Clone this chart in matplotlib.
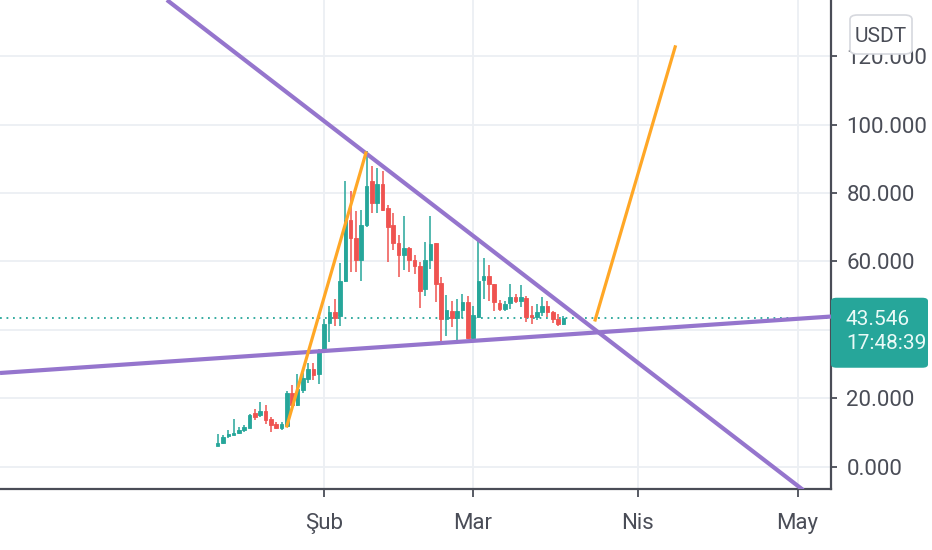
import matplotlib
matplotlib.use("Agg")
import matplotlib.pyplot as plt
import matplotlib.dates as mdates
from matplotlib.patches import FancyBboxPatch
import pandas as pd
import numpy as np

plt.rcParams['font.family'] = ['Roboto', 'DejaVu Sans']

# ---- Data (daily candles) ----

candle_start = "2021-01-12"
opens  = [6.2, 6.9, 8.9, 9.4, 9.8, 10.6, 11.4, 15.6, 15.1, 16.2, 14.1, 12.4, 11.4, 11.8,
          21.5, 18.0, 22.5, 25.6, 28.6, 27.2, 33.8, 41.9, 45.1, 44.1, 54.4, 72.2, 66.8,
          60.4, 70.7, 83.5, 77.1, 82.7, 75.6, 70.7, 65.3, 62.0, 64.0, 60.4, 58.7, 51.8,
          60.4, 65.3, 53.8, 43.3, 45.6, 43.6, 45.9, 48.1, 37.7, 43.9, 54.7, 55.7, 53.5,
          47.9, 46.1, 47.9, 49.5, 48.5, 49.2, 44.3, 43.9, 45.3, 46.9, 45.1, 43.3, 41.7]
highs  = [9.7, 9.2, 10.6, 14.1, 11.6, 12.1, 15.3, 17.0, 19.0, 18.0, 14.6, 13.1, 13.1, 22.0,
          23.9, 27.2, 27.4, 30.3, 30.3, 34.3, 43.1, 47.1, 49.0, 59.4, 83.5, 80.6, 74.7,
          75.1, 92.4, 87.9, 87.2, 86.5, 76.6, 74.2, 67.7, 73.2, 64.3, 61.8, 59.9, 65.8,
          73.2, 65.3, 55.4, 50.2, 48.5, 49.0, 50.5, 50.0, 47.1, 66.8, 60.9, 59.1, 53.5,
          48.8, 48.5, 53.5, 50.5, 53.0, 50.0, 47.1, 47.6, 49.5, 48.5, 45.6, 44.6, 44.0]
lows   = [6.0, 6.7, 8.5, 9.2, 9.5, 10.1, 11.4, 13.6, 14.6, 12.6, 10.3, 11.1, 10.8, 11.6,
          17.5, 17.7, 21.5, 24.6, 25.4, 24.2, 33.5, 36.4, 41.0, 41.2, 54.0, 56.9, 56.9,
          54.4, 70.2, 74.2, 74.2, 74.6, 59.9, 63.3, 55.4, 57.4, 56.9, 56.4, 46.3, 50.0,
          57.9, 48.1, 36.7, 38.2, 40.7, 36.7, 43.6, 37.2, 37.2, 43.4, 49.0, 48.5, 45.6,
          45.6, 45.6, 46.1, 47.9, 46.6, 42.2, 41.7, 42.9, 44.1, 43.9, 41.9, 41.2, 41.4]
closes = [6.9, 8.7, 9.5, 10.0, 10.8, 11.6, 15.1, 14.6, 16.2, 13.8, 12.1, 11.4, 12.6, 21.7,
          18.0, 22.7, 25.9, 28.6, 26.9, 33.8, 41.7, 45.1, 43.6, 54.4, 72.2, 66.8, 60.4,
          70.7, 82.0, 77.1, 82.7, 75.1, 70.2, 65.3, 61.8, 63.8, 60.4, 58.7, 51.5, 60.4,
          65.0, 53.5, 43.3, 45.9, 43.6, 45.6, 48.2, 37.7, 44.3, 54.4, 55.6, 53.5, 48.2,
          46.1, 47.6, 49.5, 48.5, 49.5, 43.9, 43.9, 45.3, 46.9, 45.1, 43.1, 41.7, 43.546]

last_price = 43.546
countdown = "17:48:39"
currency = "USDT"

# drawn trend lines: (time, price) end points
falling_line_t = ["2021-01-02 11:00", "2021-05-02 01:30"]
falling_line_p = [136.4, -6.8]
rising_line_t  = ["2020-12-02 02:00", "2021-05-07 07:00"]
rising_line_p  = [27.4, 43.9]
pump_line_t    = ["2021-01-25 00:00", "2021-02-08 20:40"]
pump_line_p    = [11.9, 91.7]
target_line_t  = ["2021-03-23 23:00", "2021-04-08 00:00"]
target_line_p  = [42.9, 122.7]

month_ticks  = ["2021-02-01", "2021-03-01", "2021-04-01", "2021-05-01"]
month_labels = ["Şub", "Mar", "Nis", "May"]
price_ticks  = [0, 20, 40, 60, 80, 100, 120]

x_range = ["2020-12-02 02:00", "2021-05-07 07:00"]
y_range = [-6.5, 136.4]

# ---- Style ----
UP, DOWN = '#26a69a', '#ef5350'
PURPLE, ORANGE = '#9575cd', '#ffa726'
AXIS_COL, TEXT_COL, GRID_COL = '#4a4d57', '#4a4d57', '#eceff3'
FS = 16

W, H = 932, 550
fig = plt.figure(figsize=(W / 100, H / 100), dpi=100)
ax = fig.add_axes([0, 1 - 489 / H, 831 / W, 489 / H])

dates = mdates.date2num(pd.date_range(candle_start, periods=len(opens)).to_pydatetime())
o, h, l, c = map(np.array, (opens, highs, lows, closes))
colors = np.where(c >= o, UP, DOWN)

ax.vlines(dates, l, h, colors=colors, lw=1.1, zorder=3)
body = np.maximum(np.abs(c - o), 0.35)
ax.bar(dates, body, bottom=np.minimum(o, c), width=0.68, color=colors,
       edgecolor=colors, lw=0.6, zorder=4)

def to_num(ts):
    return mdates.date2num(pd.to_datetime(ts).to_pydatetime())

ax.plot(to_num(falling_line_t), falling_line_p, color=PURPLE, lw=3.0,
        solid_capstyle='butt', zorder=5)
ax.plot(to_num(rising_line_t), rising_line_p, color=PURPLE, lw=3.0,
        solid_capstyle='butt', zorder=5)
ax.plot(to_num(pump_line_t), pump_line_p, color=ORANGE, lw=2.3, zorder=6)
ax.plot(to_num(target_line_t), target_line_p, color=ORANGE, lw=2.3, zorder=6)

ax.axhline(last_price, color=UP, lw=1.3, ls=(0, (1, 2.6)), zorder=2)

ax.set_xlim(to_num(x_range))
ax.set_ylim(y_range)

ax.set_xticks(to_num(month_ticks))
ax.set_xticklabels(month_labels)
ax.set_yticks(price_ticks)

# the live price tag covers the scale label next to it
def price_fmt(v, _):
    if abs(v - last_price) < 8:
        return ""
    return f"{v:.3f}"

ax.yaxis.set_major_formatter(plt.FuncFormatter(price_fmt))
ax.yaxis.tick_right()

ax.grid(True, color=GRID_COL, lw=1.3, zorder=0)
ax.set_axisbelow(True)

for side in ('left', 'top'):
    ax.spines[side].set_visible(False)
for side in ('right', 'bottom'):
    ax.spines[side].set_color(AXIS_COL)
    ax.spines[side].set_linewidth(1.6)

ax.tick_params(axis='x', length=6, width=1.3, color=AXIS_COL, labelcolor=TEXT_COL,
               labelsize=FS, pad=11)
ax.tick_params(axis='y', length=4, width=1.3, color=AXIS_COL, labelcolor=TEXT_COL,
               labelsize=FS, pad=7)
for lab in ax.get_yticklabels():
    lab.set_verticalalignment('center_baseline')

# ---- Price label on the right scale ----
fig.canvas.draw()
y_px = ax.transData.transform((0, last_price))[1]
box = FancyBboxPatch((831 / W, (y_px - 50) / H), 97 / W, 70 / H,
                     boxstyle="round,pad=0,rounding_size=0.006",
                     transform=fig.transFigure, facecolor=UP, edgecolor='none',
                     zorder=10)
fig.add_artist(box)
fig.text(846 / W, (y_px - 14) / H, f"{last_price:.3f}\n{countdown}", color='#eafaf7',
         fontsize=15, va='center', ha='left', linespacing=1.3, zorder=11)

# currency badge
badge = FancyBboxPatch((850 / W, 496 / H), 62 / W, 39 / H,
                       boxstyle="round,pad=0,rounding_size=0.008",
                       transform=fig.transFigure, facecolor='white',
                       edgecolor='#d6d8de', lw=1.2, zorder=10)
fig.add_artist(badge)
fig.text(881 / W, 515.5 / H, currency, color=TEXT_COL, fontsize=15,
         va='center_baseline', ha='center', zorder=11)

fig.savefig("out.png", dpi=100)
